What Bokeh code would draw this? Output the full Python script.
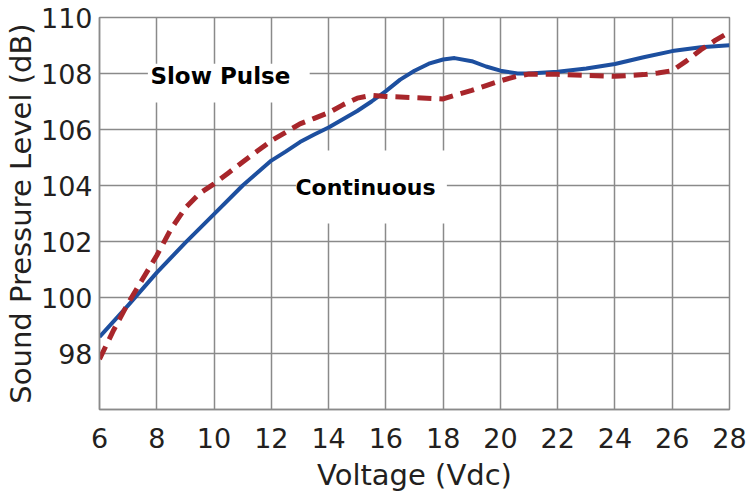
from bokeh.plotting import figure
from bokeh.models import Label, FixedTicker, Range1d, BoxAnnotation
from bokeh.embed import file_html
from bokeh.resources import INLINE

# --- data ---
voltage_cont = [6, 7, 8, 9, 10, 11, 12, 12.5, 13, 13.5, 14, 15, 15.5, 16, 16.5, 17, 17.5,
                18, 18.4, 19, 19.5, 20, 20.6, 21, 22, 23, 24, 25, 26, 27, 28]
spl_cont = [98.59, 99.72, 100.89, 101.96, 102.98, 104.0, 104.89, 105.21, 105.55, 105.82,
            106.07, 106.66, 107.0, 107.37, 107.78, 108.1, 108.35, 108.5, 108.55, 108.44,
            108.25, 108.1, 108.0, 108.0, 108.06, 108.18, 108.34, 108.58, 108.8, 108.94, 109.01]

voltage_pulse = [6, 6.5, 7, 7.5, 8, 8.5, 9, 9.5, 10, 10.5, 11, 11.5, 12, 12.5, 13, 13.5, 14,
                 14.5, 15, 15.5, 16, 17, 18, 18.5, 19, 19.5, 20, 20.5, 21, 22, 23, 24, 25,
                 25.5, 26, 26.5, 27, 27.5, 28]
spl_pulse = [97.8, 98.85, 99.8, 100.65, 101.5, 102.45, 103.2, 103.72, 104.06, 104.45, 104.84,
             105.22, 105.6, 105.9, 106.2, 106.4, 106.6, 106.88, 107.12, 107.22, 107.18,
             107.14, 107.09, 107.25, 107.4, 107.57, 107.74, 107.88, 107.98, 107.97, 107.93,
             107.9, 107.96, 108.02, 108.1, 108.45, 108.85, 109.18, 109.48]

x_ticks = [6, 8, 10, 12, 14, 16, 18, 20, 22, 24, 26, 28]
y_ticks = [98, 100, 102, 104, 106, 108, 110]

x_title = "Voltage (Vdc)"
y_title = "Sound Pressure Level (dB)"

# label positions (data units) and white backgrounds behind them
label_pulse = dict(text="Slow Pulse", x=10.22, y=107.92)
box_pulse = dict(left=7.69, right=13.34, top=108.35, bottom=106.96)
label_cont = dict(text="Continuous", x=15.29, y=103.92)
box_cont = dict(left=12.86, right=18.13, top=105.25, bottom=102.64)

GRID = "#8a8a8a"
TXT = "#231f20"
BLUE = "#1d4f9f"
RED = "#a8262b"
FONT = "DejaVu Sans"

p = figure(width=748, height=495, x_range=Range1d(6, 28), y_range=Range1d(96, 110),
           output_backend="svg", toolbar_location=None,
           min_border_left=99, min_border_right=19, min_border_top=17, min_border_bottom=86)

p.background_fill_color = "white"
p.border_fill_color = "white"
p.outline_line_color = GRID
p.outline_line_width = 1.5

p.xaxis.ticker = FixedTicker(ticks=x_ticks)
p.yaxis.ticker = FixedTicker(ticks=y_ticks)
for ax in (p.xaxis, p.yaxis):
    ax.major_tick_line_color = None
    ax.minor_tick_line_color = None
    ax.axis_line_color = GRID
    ax.axis_line_width = 1.5
    ax.major_label_text_font = FONT
    ax.major_label_text_font_size = "27px"
    ax.major_label_text_color = TXT
    ax.axis_label_text_font = FONT
    ax.axis_label_text_font_size = "29px"
    ax.axis_label_text_font_style = "normal"
    ax.axis_label_text_color = TXT

p.xaxis.axis_label = x_title
p.yaxis.axis_label = y_title
p.xaxis.major_label_standoff = 12
p.xaxis.axis_label_standoff = 7
p.yaxis.major_label_standoff = 1
p.yaxis.axis_label_standoff = 0

p.xgrid.grid_line_color = GRID
p.ygrid.grid_line_color = GRID
p.xgrid.grid_line_width = 1.5
p.ygrid.grid_line_width = 1.5

for b in (box_pulse, box_cont):
    p.add_layout(BoxAnnotation(fill_color="white", fill_alpha=1.0, line_color=None,
                               level="underlay", **b))

p.line(voltage_cont, spl_cont, line_color=BLUE, line_width=4, line_join="round")
p.line(voltage_pulse, spl_pulse, line_color=RED, line_width=5, line_dash="14 8",
       line_join="round")

for lab, size in ((label_pulse, "23px"), (label_cont, "22px")):
    p.add_layout(Label(x=lab["x"], y=lab["y"], text=lab["text"], text_font=FONT,
                       text_font_style="bold", text_font_size=size, text_color="black",
                       text_align="center", text_baseline="middle"))

open("out.html", "w").write(file_html(p, INLINE))
